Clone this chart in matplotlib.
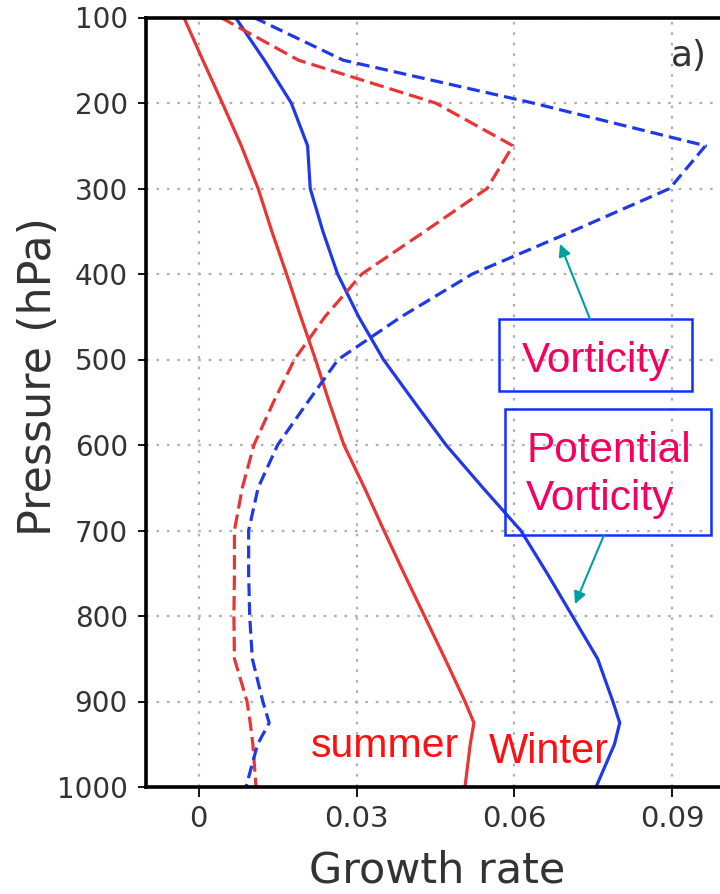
import matplotlib
matplotlib.use("Agg")
import matplotlib.pyplot as plt
from matplotlib.patches import Rectangle, FancyArrowPatch

# ---- data ----
levels = [100, 150, 200, 250, 300, 350, 400, 450, 500, 550, 600, 650, 700,
          750, 800, 850, 900, 925, 950, 1000]
winter_vort = [0.0105, 0.0275, 0.0635, 0.0963, 0.0895, 0.0710, 0.0520, 0.0385, 0.0265, 0.0207,
               0.0150, 0.0113, 0.0095, 0.0095, 0.0097, 0.0102, 0.0122, 0.0134, 0.0112, 0.0090]
summer_vort = [0.0042, 0.0190, 0.0450, 0.0597, 0.0548, 0.0430, 0.0310, 0.0240, 0.0182, 0.0142,
               0.0105, 0.0083, 0.0068, 0.0068, 0.0067, 0.0068, 0.0092, 0.0098, 0.0103, 0.0109]
winter_pv = [0.0070, 0.0125, 0.0176, 0.0207, 0.0212, 0.0236, 0.0264, 0.0304, 0.0351, 0.0410,
             0.0470, 0.0540, 0.0612, 0.0662, 0.0710, 0.0758, 0.0787, 0.0800, 0.0790, 0.0755]
summer_pv = [-0.0028, 0.0008, 0.0045, 0.0081, 0.0113, 0.0139, 0.0167, 0.0194, 0.0222, 0.0248,
             0.0276, 0.0315, 0.0352, 0.0390, 0.0429, 0.0468, 0.0506, 0.0523, 0.0516, 0.0506]
xticks = [0, 0.03, 0.06, 0.09]
xticklabels = ["0", "0.03", "0.06", "0.09"]
yticks = [100, 200, 300, 400, 500, 600, 700, 800, 900, 1000]

W, H = 720, 894
fig = plt.figure(figsize=(W / 100, H / 100), dpi=100)

def fx(px):
    return px / W

def fy(py):
    return 1 - py / H

ax = fig.add_axes([fx(146), fy(787), (725 - 146) / W, (787 - 17.5) / H])

blue = "#2038e8"
red = "#e83535"
lw = 2.3
ax.plot(summer_pv, levels, color=red, lw=lw, solid_joinstyle="round")
ax.plot(winter_pv, levels, color=blue, lw=lw, solid_joinstyle="round")
ax.plot(summer_vort, levels, color=red, lw=lw, dashes=(4.5, 1.9))
ax.plot(winter_vort, levels, color=blue, lw=lw, dashes=(4.0, 1.9))

ax.set_xlim(-0.01, 0.1)
ax.set_ylim(1000, 100)
ax.set_xticks(xticks)
ax.set_xticklabels(xticklabels)
ax.set_yticks(yticks)
ax.set_yticklabels([str(v) for v in yticks])

ax.grid(True, color="#b0b0b0", linestyle=(0, (1.2, 3.5)), lw=1.6)
ax.set_axisbelow(True)

for side in ["left", "bottom", "top"]:
    ax.spines[side].set_linewidth(2.6)
    ax.spines[side].set_color("black")
ax.spines["right"].set_visible(False)

ax.tick_params(axis="y", direction="out", length=6, width=1.3, pad=7,
               labelsize=20, labelcolor="#333333")
ax.tick_params(axis="x", direction="out", length=7, width=1.3, pad=6,
               labelsize=21, labelcolor="#333333")

ax.set_xlabel("Growth rate", fontsize=31, color="#333333", va="center")
ax.xaxis.set_label_coords(0.503, -0.108)
ax.set_ylabel("Pressure (hPa)", fontsize=32, color="#333333", va="center")
ax.yaxis.set_label_coords(-0.186, 0.533)

ax.text(0.0932, 145, "a)", fontsize=26, color="#333333", ha="center", va="center")

# annotation boxes
fig.add_artist(Rectangle((fx(499), fy(391)), (692 - 499) / W, (391 - 319) / H,
                         transform=fig.transFigure, fill=False, edgecolor="#1030ff", lw=1.8))
fig.add_artist(Rectangle((fx(505), fy(535)), (711 - 505) / W, (535 - 409) / H,
                         transform=fig.transFigure, fill=False, edgecolor="#1030ff", lw=1.8))

pink = "#f50060"
fam = ["Liberation Sans", "DejaVu Sans"]
fig.text(fx(596), fy(372), "Vorticity", fontsize=30.5, color=pink, ha="center",
         va="baseline", family=fam)
fig.text(fx(526), fy(462), "Potential", fontsize=30.5, color=pink, ha="left",
         va="baseline", family=fam)
fig.text(fx(526), fy(510), "Vorticity", fontsize=30.5, color=pink, ha="left",
         va="baseline", family=fam)

fig.text(fx(311), fy(757), "summer", fontsize=29.5, color="#ff1010", ha="left",
         va="baseline", family=fam)
fig.text(fx(489), fy(763), "Winter", fontsize=30, color="#ff1010", ha="left",
         va="baseline", family=fam)

teal = "#009f9f"
arrow_kw = dict(arrowstyle="-|>", color=teal, lw=1.5, mutation_scale=18,
                shrinkA=0, shrinkB=0)
fig.add_artist(FancyArrowPatch((fx(590), fy(319)), (fx(560), fy(244)),
                               transform=fig.transFigure, **arrow_kw))
fig.add_artist(FancyArrowPatch((fx(604), fy(535)), (fx(575), fy(604)),
                               transform=fig.transFigure, **arrow_kw))

fig.savefig("out.png", dpi=100)
